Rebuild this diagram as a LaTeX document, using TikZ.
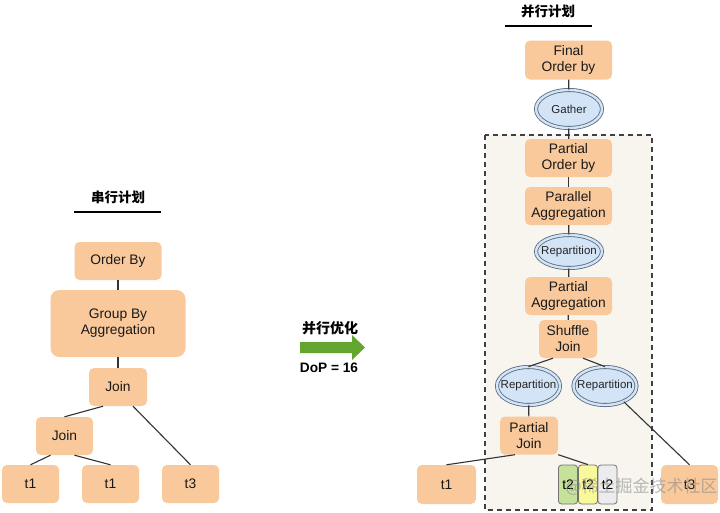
\documentclass[tikz,border=0pt]{standalone}
\usepackage{fontspec}
\setmainfont{Liberation Sans}
\newfontfamily\cjk{Noto Sans CJK SC}
\usetikzlibrary{shapes.geometric}
\definecolor{peach}{HTML}{F9C99C}
\definecolor{lblue}{HTML}{D2E4F5}
\definecolor{eblue}{HTML}{56677D}
\definecolor{beige}{HTML}{F7F5EE}
\definecolor{agreen}{HTML}{62A62E}
\definecolor{tgreen}{HTML}{C6E19B}
\definecolor{tyellow}{HTML}{F9F99A}
\definecolor{tgray}{HTML}{ECECEE}
\begin{document}
\begin{tikzpicture}[x=1pt,y=-1pt,
  box/.style={fill=peach, rounded corners=5pt, align=center, inner sep=0pt,
    font=\fontsize{13.8}{16}\selectfont, text=black!90},
  ell/.style={ellipse, fill=lblue, draw=eblue, double=lblue, double distance=2.4pt,
    line width=0.8pt, inner xsep=-5.5pt, inner ysep=0pt, font=\fontsize{11.5}{13}\selectfont, text=black!85},
  tbox/.style={draw=black!55, line width=0.8pt, rounded corners=3pt, inner sep=0pt,
    minimum width=19pt, minimum height=39pt, font=\fontsize{13.8}{16}\selectfont},
  link/.style={draw=black!80, line width=1.1pt},
  ttl/.style={font=\cjk\bfseries\fontsize{13.5}{15}\selectfont},
  uline/.style={draw=black, line width=2pt}
]
\useasboundingbox (0,0) rectangle (720,512);
\fill[white] (0,0) rectangle (720,512);

% ---------- left: serial plan ----------
\node[ttl] (lt) at (118,197) {串行计划};
\coordinate (lu1) at (74,212);
\coordinate (lu2) at (161,212);
\draw[uline] (lu1) -- (lu2);

\node[box, minimum width=87pt, minimum height=38pt] (ob) at (118,261) {Order By};
\node[box, rounded corners=9pt, minimum width=135pt, minimum height=67pt] (gb) at (118,323.5) {Group By\\Aggregation};
\node[box, minimum width=58pt, minimum height=38pt] (j1) at (118,387) {Join};
\node[box, minimum width=57pt, minimum height=38pt] (j2) at (64.5,436) {Join};
\node[box, minimum width=57pt, minimum height=38pt] (t1a) at (30.5,484) {t1};
\node[box, minimum width=57pt, minimum height=38pt] (t1b) at (110.5,484) {t1};
\node[box, minimum width=57pt, minimum height=38pt] (t3a) at (190.5,484) {t3};

\draw[link] (ob) -- (gb);
\draw[link] (gb) -- (j1);
\draw[link] ([xshift=-15pt]j1.south) -- (j2.north);
\draw[link] ([xshift=15pt]j1.south) -- (t3a.north);
\draw[link] ([xshift=-14pt]j2.south) -- (t1a.north);
\draw[link] ([xshift=10pt]j2.south) -- (t1b.north);

% ---------- middle arrow ----------
\node[ttl, font=\cjk\bfseries\fontsize{14}{16}\selectfont] (pt) at (330,328) {并行优化};
\node[font=\bfseries\fontsize{13.7}{16}\selectfont] (dop) at (329,368) {DoP = 16};
\fill[agreen] (300,342) -- (352,342) -- (352,335) -- (365,347.5) -- (352,360) -- (352,353) -- (300,353) -- cycle;

% ---------- right: parallel plan ----------
\node[ttl] (rt) at (548,11) {并行计划};
\coordinate (ru1) at (505,26);
\coordinate (ru2) at (592,26);
\draw[uline] (ru1) -- (ru2);

\draw[fill=beige, draw=black!75, line width=1.5pt, dash pattern=on 5pt off 4pt] (485,135) rectangle (652,510);

\node[box, minimum width=87pt, minimum height=39pt] (fo) at (568.5,60) {Final\\Order by};
\node[ell, minimum width=66pt, minimum height=38pt] (ga) at (569,109) {Gather};
\node[box, minimum width=87pt, minimum height=38pt] (po) at (568.5,158) {Partial\\Order by};
\node[box, minimum width=87pt, minimum height=38pt] (pa) at (568.5,206) {Parallel\\Aggregation};
\node[ell, minimum width=66pt, minimum height=33pt] (r1) at (569,251.5) {Repartition};
\node[box, minimum width=87pt, minimum height=38pt] (pag) at (568.5,296) {Partial\\Aggregation};
\node[box, minimum width=58pt, minimum height=38pt] (sj) at (568,339) {Shuffle\\Join};
\node[ell, minimum width=63pt, minimum height=38pt] (rl) at (528.5,386) {Repartition};
\node[ell, minimum width=62pt, minimum height=38pt] (rr) at (605,386) {Repartition};
\node[box, minimum width=58pt, minimum height=38pt] (pj) at (529,435.5) {Partial\\Join};

\node[box, minimum width=59pt, minimum height=39pt] (t1r) at (446.5,484.5) {t1};
\node[box, minimum width=57pt, minimum height=39pt] (t3r) at (689.5,484.5) {t3};
\node[tbox, fill=tgreen] (t2a) at (568,484.5) {t2};
\node[tbox, fill=tyellow] (t2b) at (588,484.5) {t2};
\node[tbox, fill=tgray] (t2c) at (607.5,484.5) {t2};

\draw[link] (fo) -- (ga);
\draw[link] (ga) -- (po);
\draw[link] (po) -- (pa);
\draw[link] (pa) -- (r1);
\draw[link] (r1) -- (pag);
\draw[link] (pag) -- (sj);
\draw[link] ([xshift=-15pt]sj.south) -- (rl.north);
\draw[link] ([xshift=15pt]sj.south) -- (rr.north);
\draw[link] (rl) -- (pj);
\draw[link] (rr.-40) -- (t3r.north);
\draw[link] ([xshift=-14pt]pj.south) -- (t1r.north);
\draw[link] (pj.south east) -- (t2b.north);

% watermark
\node[font=\cjk\fontsize{17}{19}\selectfont, text=black!45, opacity=0.6, anchor=west] (wm) at (562,487) {@稀土掘金技术社区};
\end{tikzpicture}
\end{document}
